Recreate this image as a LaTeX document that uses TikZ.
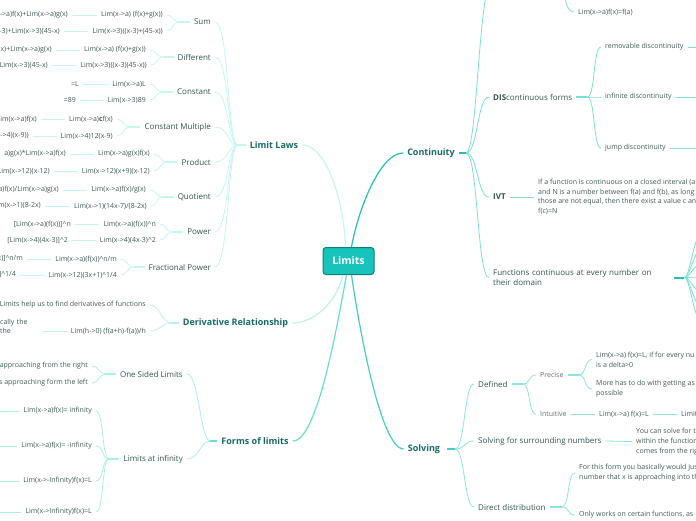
\documentclass[tikz,border=0pt]{standalone}
\usepackage{fontspec}
\setmainfont{Open Sans}
\definecolor{rootfill}{RGB}{22, 196, 188}
\definecolor{rootedge}{RGB}{14, 125, 120}
\definecolor{maintext}{RGB}{22, 106, 101}
\definecolor{subtext}{RGB}{45, 85, 82}
\definecolor{leaftext}{RGB}{60, 90, 88}
\definecolor{greytext}{RGB}{100, 112, 112}
\definecolor{llline}{RGB}{196, 246, 242}
\definecolor{coline}{RGB}{36, 190, 182}
\definecolor{cosub}{RGB}{125, 222, 216}
\definecolor{drline}{RGB}{188, 242, 238}
\definecolor{flline}{RGB}{105, 220, 212}
\definecolor{flsub}{RGB}{170, 238, 233}
\definecolor{soline}{RGB}{70, 206, 198}
\definecolor{sosub}{RGB}{140, 228, 222}
\usepackage{tikz}
\usetikzlibrary{positioning, calc}

\tikzset{
  rootbox/.style={draw=rootedge, fill=rootfill, rounded corners=3pt, line width=1pt,
    minimum width=51pt, minimum height=27pt, text=white, font=\fontsize{10.5pt}{12pt}\selectfont\bfseries},
  mainlbl/.style={text=maintext, inner sep=4pt, font=\fontsize{9pt}{11pt}\selectfont\bfseries},
  sublbl/.style={text=subtext, inner sep=4pt, font=\fontsize{8pt}{10.4pt}\selectfont},
  leaflbl/.style={text=leaftext, inner sep=4pt, font=\fontsize{7pt}{9.7pt}\selectfont},
  greylbl/.style={leaflbl, text=greytext},
  mainedge/.style={line width=1.2pt},
  subedge/.style={line width=0.8pt},
  stub/.style={line width=2pt}
}

\begin{document}
\begin{tikzpicture}[x=1pt, y=-1pt]
  \useasboundingbox (0,0) rectangle (696,520);
  \clip (0,0) rectangle (696,520);

  % Root
  \node[rootbox] (limits) at (348.5,261) {Limits};

  % Main topics
  \node[mainlbl] (laws) at (274,145) {Limit Laws};
  \node[mainlbl] (cont) at (431,153) {Continuity};
  \node[mainlbl] (deriv) at (235.5,323) {Derivative Relationship};
  \node[mainlbl] (forms) at (255,441) {Forms of limits};
  \node[mainlbl] (solv) at (424,449) {Solving};

  \draw[mainedge, llline] (laws.east) .. controls (326,145) and (344,200) .. ([xshift=-3pt]limits.north);
  \draw[mainedge, coline] (cont.west) .. controls (380,153) and (358,210) .. ([xshift=3pt]limits.north);
  \draw[mainedge, drline] (deriv.east) .. controls (318,323) and (340,295) .. ([xshift=-6pt]limits.south);
  \draw[mainedge, flline] (forms.east) .. controls (318,441) and (338,320) .. ([xshift=-2pt]limits.south);
  \draw[mainedge, soline] (solv.west) .. controls (380,449) and (358,320) .. ([xshift=3pt]limits.south);

  % Limit laws
  \coordinate (jlaws) at ($(laws.west)+(-8,0)$);
  \draw[stub, llline] (jlaws) -- (laws.west);
  \node[sublbl, anchor=east] (sum) at (215,22) {Sum};
  \node[sublbl, anchor=east] (diff) at (215,57) {Different};
  \node[sublbl, anchor=east] (const) at (215,92) {Constant};
  \node[sublbl, anchor=east] (cmult) at (215,127) {Constant Multiple};
  \node[sublbl, anchor=east] (prod) at (215,162) {Product};
  \node[sublbl, anchor=east] (quot) at (215,197) {Quotient};
  \node[sublbl, anchor=east] (pow) at (215,232) {Power};
  \node[sublbl, anchor=east] (fpow) at (215,267) {Fractional Power};
  \foreach \law in {sum, diff, const, cmult, prod, quot, pow, fpow} {
    \draw[subedge, llline] (jlaws) .. controls +(-10,0) and +(14,0) .. (\law.east);
    \coordinate (j\law) at ($(\law.west)+(-11,0)$);
    \draw[stub, llline] (j\law) -- (\law.west);
  }

  \node[leaflbl, anchor=east] (sum1) at (167,15) {Lim(x->a) (f(x)+g(x))};
  \node[leaflbl, anchor=east] (sum2) at (167,31) {Lim(x->3)((x-3)+(45-x))};
  \node[leaflbl, anchor=east] (sum1g) at (72,15) {->a)f(x)+Lim(x->a)g(x)};
  \node[leaflbl, anchor=east] (sum2g) at (64,31) {-3)+Lim(x->3)(45-x)};

  \node[leaflbl, anchor=east] (diff1) at (150,50) {Lim(x->a) (f(x)+g(x))};
  \node[leaflbl, anchor=east] (diff2) at (151,65) {Lim(x->3)((x-3)(45-x))};
  \node[leaflbl, anchor=east] (diff1g) at (56,50) {x)+Lim(x->a)g(x)};
  \node[leaflbl, anchor=east] (diff2g) at (52,65) {Lim(x->3)(45-x)};

  \node[leaflbl, anchor=east] (const1) at (150,84) {Lim(x->a)L};
  \node[leaflbl, anchor=east] (const2) at (150,100) {Lim(x->3)89};
  \node[leaflbl, anchor=east] (const1g) at (83,84) {=L};
  \node[leaflbl, anchor=east] (const2g) at (80,100) {=89};

  \node[leaflbl, anchor=east] (cmult1) at (117,119) {Lim(x->a)\textbf{c}f(x)};
  \node[leaflbl, anchor=east] (cmult2) at (117,136) {Lim(x->4)12(x-9)};
  \node[leaflbl, anchor=east] (cmult1g) at (41,119) {Lim(x->a)f(x)};
  \node[leaflbl, anchor=east] (cmult2g) at (33,136) {->4)(x-9))};

  \node[leaflbl, anchor=east] (prod1) at (154,154) {Lim(x->a)g(x)f(x)};
  \node[leaflbl, anchor=east] (prod2) at (154,171) {Lim(x->12)(x+9)(x-12)};
  \node[leaflbl, anchor=east] (prod1g) at (70,154) {a)g(x)*Lim(x->a)f(x)};
  \node[leaflbl, anchor=east] (prod2g) at (54,171) {Lim(x->12)(x-12)};

  \node[leaflbl, anchor=east] (quot1) at (150,190) {Lim(x->a)f(x)/g(x)};
  \node[leaflbl, anchor=east] (quot2) at (151,206) {Lim(x->1)(14x-7)/(8-2x)};
  \node[leaflbl, anchor=east] (quot1g) at (63,190) {a)f(x)/Lim(x->a)g(x)};
  \node[leaflbl, anchor=east] (quot2g) at (45,206) {m(x->1)(8-2x)};

  \node[leaflbl, anchor=east] (pow1) at (160,224) {Lim(x->a)(f(x))\textasciicircum n};
  \node[leaflbl, anchor=east] (pow2) at (160,240) {Lim(x->4)(4x-3)\textasciicircum 2};
  \node[leaflbl, anchor=east] (pow1g) at (75,224) {[Lim(x->a)(f(x))]\textasciicircum n};
  \node[leaflbl, anchor=east] (pow2g) at (72,240) {[Lim(x->4)(4x-3)]\textasciicircum 2};

  \node[leaflbl, anchor=east] (fpow1) at (121,259) {Lim(x->a)(f(x))\textasciicircum n/m};
  \node[leaflbl, anchor=east] (fpow2) at (121,275) {Lim(x->12)(3x+1)\textasciicircum 1/4};
  \node[leaflbl, anchor=east] (fpow1g) at (27,259) {x)]\textasciicircum n/m};
  \node[leaflbl, anchor=east] (fpow2g) at (20,275) {]\textasciicircum 1/4};

  \foreach \law in {sum, diff, const, cmult, prod, quot, pow, fpow} {
    \foreach \k in {1,2} {
      \draw[subedge, llline] (j\law) .. controls +(-6,0) and +(6,0) .. (\law\k.east);
      \draw[subedge, llline] (\law\k.west) -- (\law\k g.east);
    }
  }

  % Derivative relationship
  \coordinate (jderiv) at ($(deriv.west)+(-7,0)$);
  \draw[stub, drline] (jderiv) -- (deriv.west);
  \node[leaflbl, anchor=east] (deriv1) at (150,305) {Limits help us to find derivatives of functions};
  \node[leaflbl, anchor=east] (deriv2) at (150,331) {Lim(h->0) (f(a+h)-f(a))/h};
  \node[leaflbl, anchor=west, align=left, text width=39pt] (deriv2g) at (-4,326.5) {cally the\\the};
  \draw[subedge, drline] (jderiv) .. controls +(-10,0) and +(10,0) .. (deriv1.east);
  \draw[subedge, drline] (jderiv) .. controls +(-10,0) and +(10,0) .. (deriv2.east);
  \draw[subedge, drline] (deriv2.west) -- (deriv2.west -| deriv2g.east);

  % Forms of limits
  \coordinate (jforms) at ($(forms.west)+(-7,0)$);
  \draw[stub, flline] (jforms) -- (forms.west);
  \node[sublbl, anchor=east] (ones) at (187,374) {One Sided Limits};
  \node[sublbl, anchor=east] (linf) at (187,459) {Limits at infinity};
  \draw[subedge, flsub] (jforms) .. controls +(-10,0) and +(12,0) .. (ones.east);
  \draw[subedge, flsub] (jforms) .. controls +(-10,0) and +(12,0) .. (linf.east);

  \coordinate (jones) at ($(ones.west)+(-10,0)$);
  \draw[stub, flsub] (jones) -- (ones.west);
  \node[leaflbl, anchor=east] (ones1) at (92,366) {approaching from the right};
  \node[leaflbl, anchor=east] (ones2) at (92,383) {s approaching form the left};
  \draw[subedge, flsub] (jones) .. controls +(-7,0) and +(7,0) .. (ones1.east);
  \draw[subedge, flsub] (jones) .. controls +(-7,0) and +(7,0) .. (ones2.east);

  \coordinate (jlinf) at ($(linf.west)+(-10,0)$);
  \draw[stub, flsub] (jlinf) -- (linf.west);
  \node[leaflbl, anchor=east] (linf1) at (96,411) {Lim(x->a)f(x)= infinity};
  \node[leaflbl, anchor=east] (linf2) at (96,446) {Lim(x->a)f(x)= -infinity};
  \node[leaflbl, anchor=east] (linf3) at (96,481) {Lim(x->-Infinity)f(x)=L};
  \node[leaflbl, anchor=east] (linf4) at (96,512) {Lim(x->Infinity)f(x)=L};
  \foreach \k in {1,2,3,4} {
    \draw[subedge, flsub] (jlinf) .. controls +(-8,0) and +(8,0) .. (linf\k.east);
    \coordinate (linf\k x) at (linf\k.west -| -2,0);
    \draw[subedge, flsub] (linf\k.west) -- (linf\k x);
  }

  % Continuity
  \coordinate (jcont) at (466,153);
  \draw[stub, coline] (cont.east) -- (jcont);
  \coordinate (conttop) at (496,-30);
  \node[sublbl, anchor=west] (dis) at (489,97) {\textbf{DIS}continuous forms};
  \node[sublbl, anchor=west, font=\fontsize{8pt}{10.4pt}\selectfont\bfseries] (ivt) at (489,197) {IVT};
  \node[sublbl, anchor=west, align=left, text width=177pt] (func) at (489,277.5) {Functions continuous at every number on\\their domain};
  \draw[subedge, cosub] (jcont) .. controls (478,153) and (478,-30) .. (conttop);
  \draw[subedge, cosub] (jcont) .. controls +(12,0) and +(-12,0) .. (dis.west);
  \draw[subedge, cosub] (jcont) .. controls +(12,0) and +(-12,0) .. (ivt.west);
  \draw[subedge, cosub] (jcont) .. controls +(12,0) and +(-12,0) .. (func.west);

  \coordinate (jtop) at (556,-22);
  \node[leaflbl, anchor=west] (ctop) at (574,12) {Lim(x->a)f(x)=f(a)};
  \draw[subedge, cosub] (jtop) .. controls +(10,0) and +(-12,0) .. (ctop.west);

  \coordinate (jdis) at ($(dis.east)+(11,0)$);
  \draw[stub, cosub] (dis.east) -- (jdis);
  \node[leaflbl, anchor=west] (rem) at (601,47) {removable discontinuity};
  \node[leaflbl, anchor=west] (inf) at (601,97) {infinite discontinuity};
  \node[leaflbl, anchor=west] (jump) at (601,148) {jump discontinuity};
  \foreach \d in {rem, inf, jump} {
    \draw[subedge, cosub] (jdis) .. controls +(8,0) and +(-8,0) .. (\d.west);
    \coordinate (\d x) at (\d.east -| 702,0);
    \draw[subedge, cosub] (\d.east) -- (\d x);
  }

  \node[leaflbl, anchor=west, align=left] (ivttext) at (534,197) {If a function is continuous on a closed interval (a\\and N is a number between f(a) and f(b), as long\\those are not equal, then there exist a value c an\\f(c)=N};
  \draw[subedge, cosub] (ivt.east) -- (ivttext.west);

  \coordinate (jfunc) at ($(func.east)+(10,0)$);
  \draw[stub, coline] (func.east) -- (jfunc);
  \foreach \y in {230, 247, 263, 278, 293, 309, 325} {
    \coordinate (func\y) at (704,\y);
    \draw[subedge, cosub] (jfunc) .. controls +(6,0) and +(-10,0) .. (func\y);
  }

  % Solving
  \coordinate (jsolv) at (455,449);
  \draw[stub, soline] ($(solv.east)+(3,0)$) -- (jsolv);
  \node[sublbl, anchor=west] (defd) at (474,384) {Defined};
  \node[sublbl, anchor=west] (surr) at (474,441) {Solving for surrounding numbers};
  \node[sublbl, anchor=west] (direct) at (474,507) {Direct distribution};
  \foreach \s in {defd, surr, direct}
    \draw[subedge, sosub] (jsolv) .. controls +(10,0) and +(-10,0) .. (\s.west);

  \coordinate (jdefd) at ($(defd.east)+(11,0)$);
  \draw[stub, sosub] (defd.east) -- (jdefd);
  \node[greylbl, anchor=west] (prec) at (536,375) {Precise};
  \node[greylbl, anchor=west] (intu) at (536,414) {Intuitive};
  \draw[subedge, sosub] (jdefd) .. controls +(8,0) and +(-8,0) .. (prec.west);
  \draw[subedge, sosub] (jdefd) .. controls +(8,0) and +(-8,0) .. (intu.west);

  \coordinate (jprec) at ($(prec.east)+(11,0)$);
  \draw[stub, sosub] (prec.east) -- (jprec);
  \node[leaflbl, anchor=west, align=left] (prec1) at (592,359.5) {Lim(x->a) f(x)=L, if for every nu\\is a delta>0};
  \node[leaflbl, anchor=west, align=left] (prec2) at (592,389) {More has to do with getting as\\possible};
  \draw[subedge, sosub] (jprec) .. controls +(8,0) and +(-8,0) .. (prec1.west);
  \draw[subedge, sosub] (jprec) .. controls +(8,0) and +(-8,0) .. (prec2.west);

  \node[leaflbl, anchor=west] (intu1) at (595,414) {Lim(x->a) f(x)=L};
  \node[leaflbl, anchor=west] (intu2) at (677,414) {Limit};
  \draw[subedge, sosub] (intu.east) -- (intu1.west);
  \draw[subedge, sosub] (intu1.east) -- (intu2.west);

  \node[leaflbl, anchor=west, align=left] (surrtext) at (632,441.5) {You can solve for t\\within the function\\comes from the rig};
  \draw[subedge, sosub] (surr.east) -- (surrtext.west);

  \coordinate (jdirect) at ($(direct.east)+(12,0)$);
  \draw[stub, sosub] (direct.east) -- (jdirect);
  \node[leaflbl, anchor=west, align=left] (direct1) at (575,473) {For this form you basically would jus\\number that x is approaching into th};
  \node[leaflbl, anchor=west] (direct2) at (575,515) {Only works on certain functions, as};
  \draw[subedge, sosub] (jdirect) .. controls +(8,0) and +(-8,0) .. (direct1.west);
  \draw[subedge, sosub] (jdirect) .. controls +(8,0) and +(-8,0) .. (direct2.west);
\end{tikzpicture}
\end{document}
